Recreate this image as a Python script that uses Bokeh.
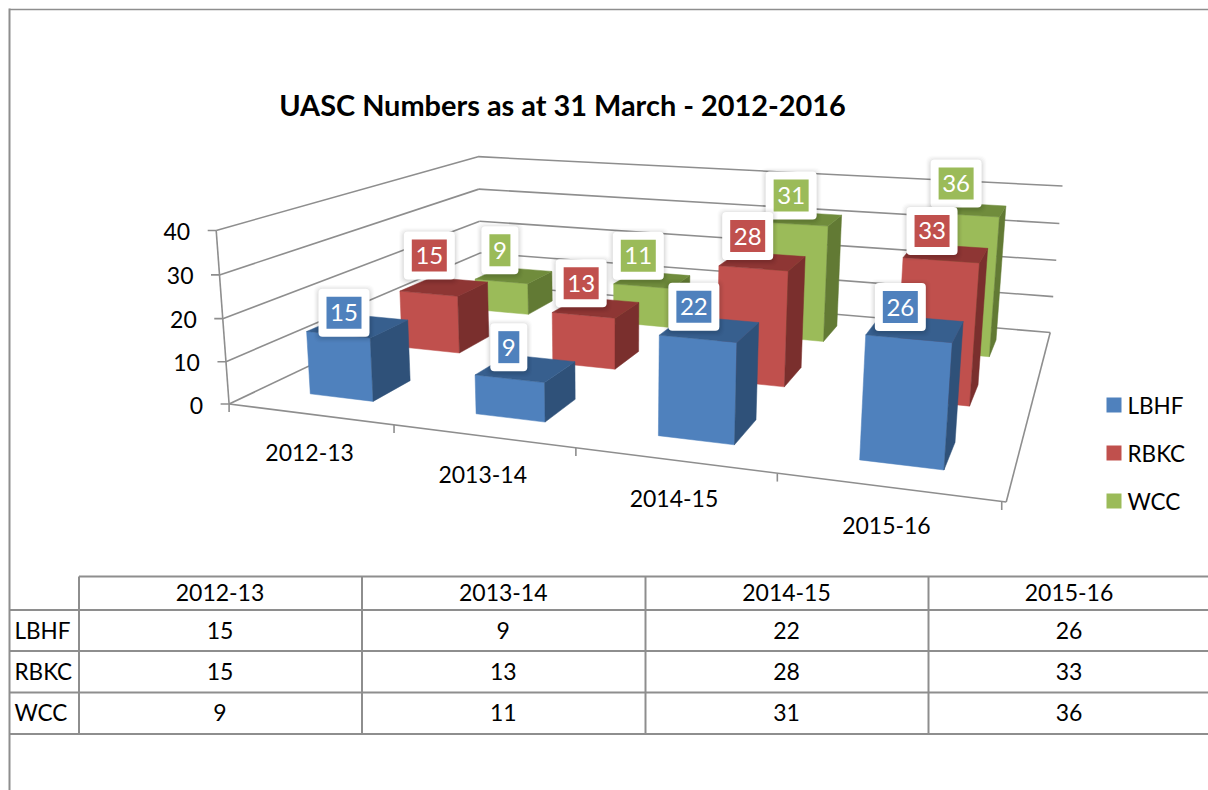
import numpy as np
from bokeh.plotting import figure
from bokeh.models import Range1d
from bokeh.core.properties import value
from bokeh.embed import file_html
from bokeh.resources import INLINE

# ---- data ----
TITLE = "UASC Numbers as at 31 March - 2012-2016"
categories = ["2012-13", "2013-14", "2014-15", "2015-16"]
LBHF = [15, 9, 22, 26]
RBKC = [15, 13, 28, 33]
WCC = [9, 11, 31, 36]
series_names = ["LBHF", "RBKC", "WCC"]
y_ticks = [0, 10, 20, 30, 40]

# ---- style ----
FONT = value("Lato")
GRID = "#8e8e8e"
front = ["#4f81bd", "#c0504d", "#9bbb59"]
top_c = ["#375f8e", "#8e3634", "#708c3c"]
side = ["#2f5179", "#7a2f2d", "#627a34"]
series = [LBHF, RBKC, WCC]
BAR_W, BAR_D = 0.39, 0.40
YMAX = 40.0
AXIS_SKEW = -4.5

p = figure(width=1208, height=790, x_range=Range1d(0, 1208), y_range=Range1d(790, 0),
           x_axis_type=None, y_axis_type=None, toolbar_location=None,
           output_backend="svg", min_border=0, outline_line_color=None,
           background_fill_color="white", border_fill_color="white")
p.grid.visible = False

# ---- perspective camera calibrated on the chart box's corners (u, v, w) -> screen
calib = [((0, 0, 0), (229.3, 403.3)), ((1, 0, 0), (1005.7, 501.7)),
         ((0, 1, 0), (480, 284)), ((1, 1, 0), (1050, 331.7)),
         ((0, 0, 1), (215, 230)), ((0, 1, 1), (478.3, 156)), ((1, 1, 1), (1061.7, 185.7))]
A = []
for (u, v, w), (x, y) in calib:
    x, y = x / 500.0, y / 500.0
    A.append([u, v, w, 1, 0, 0, 0, 0, -x*u, -x*v, -x*w, -x])
    A.append([0, 0, 0, 0, u, v, w, 1, -y*u, -y*v, -y*w, -y])
P = np.linalg.svd(np.array(A))[2][-1].reshape(3, 4)

def proj(u, v, val):
    h = P @ np.array([u, v, val / YMAX, 1.0])
    return h[0] / h[2] * 500.0, h[1] / h[2] * 500.0

def seg(a, b, width=1.6, color=GRID):
    p.line([a[0], b[0]], [a[1], b[1]], line_color=color, line_width=width)

# frame and table
seg((9, 8), (9, 790), 2)
seg((9, 9), (1208, 9), 1.5)
cols = [78.5, 361.5, 645, 928]
rows = [609.5, 650.5, 692, 733.5]
seg((78.5, 576), (1208, 576), 2)
for r in rows:
    seg((9, r), (1208, r), 2)
for c in cols:
    seg((c, 576), (c, 733.5), 2)
TBL = 23
ROW_Y = [629.5, 670.5, 712]
for i, cat in enumerate(categories):
    cx = (cols[i] + (cols[i+1] if i < 3 else 1210)) / 2 - 0.5
    p.text([cx], [591.5], text=[cat], text_font=FONT, text_font_size=f"{TBL}px", text_align="center", text_baseline="middle", text_color="#000000")
    for j, s in enumerate(series):
        p.text([cx], [ROW_Y[j]], text=[str(s[i])], text_font=FONT, text_font_size=f"{TBL}px", text_align="center", text_baseline="middle", text_color="#000000")
for j, n in enumerate(series_names):
    p.text([14], [ROW_Y[j]], text=[n], text_font=FONT, text_font_size="22.5px", text_align="left", text_baseline="middle", text_color="#000000")

# title
p.text([562], [104], text=[TITLE], text_font=FONT, text_font_style="bold", text_font_size="28.9px", text_align="center", text_baseline="middle", text_color="#000000")

# walls
for t in y_ticks:
    a, b, c = proj(0, 0, t), proj(0, 1, t), proj(1, 1, t)
    seg(a, b); seg(b, c)
    seg((a[0] - 8.5, a[1]), a)
    p.text([a[0] - 26], [a[1] + 1], text=[str(t)], text_font=FONT, text_font_size="23px", text_align="right", text_baseline="middle", text_color="#000000")
seg(proj(0, 0, 0), proj(0, 0, YMAX))
seg(proj(0, 0, 0), proj(1, 0, 0))
seg(proj(1, 0, 0), proj(1, 1, 0))
for k in range(5):
    a = proj(k / 4, 0, 0)
    x = a[0] + AXIS_SKEW * k / 4
    seg((x, a[1]), (x, a[1] + 8))
for i, cat in enumerate(categories):
    a = proj((i + .5) / 4, 0, 0)
    p.text([a[0] + AXIS_SKEW * (i + .5) / 4], [a[1] + 38], text=[cat], text_font=FONT, text_font_size="23px", text_align="center", text_baseline="middle", text_color="#000000")

# bars, back series first
def face(pts, color):
    p.patch([q[0] for q in pts], [q[1] for q in pts], fill_color=color, line_color=color, line_width=0.5)

for s in (2, 1, 0):
    v0 = (s + .5 - BAR_D / 2) / 3
    v1 = (s + .5 + BAR_D / 2) / 3
    for c in range(4):
        u0 = (c + .5 - BAR_W / 2) / 4
        u1 = (c + .5 + BAR_W / 2) / 4
        h = series[s][c]
        face([proj(u0, v0, 0), proj(u1, v0, 0), proj(u1, v0, h), proj(u0, v0, h)], front[s])
        face([proj(u1, v0, 0), proj(u1, v1, 0), proj(u1, v1, h), proj(u1, v0, h)], side[s])
        face([proj(u0, v0, h), proj(u1, v0, h), proj(u1, v1, h), proj(u0, v1, h)], top_c[s])

# data labels, drawn above every bar
nudge = {0: [(-14, -13), (-17, -21), (-16, -22), (-15, -21)],
         1: [(-15, -31), (-15, -24), (-15, -25), (-14, -22)],
         2: [(-14, -25), (-14, -24), (-13, -23), (-13, -26)]}
for s in (2, 1, 0):
    for c in range(4):
        h = series[s][c]
        tx, ty = proj((c + .5) / 4, (s + .5) / 3, h)
        tx += nudge[s][c][0]; ty += nudge[s][c][1]
        txt = str(h)
        hw = 25.5 if len(txt) == 2 else 18.5
        iw = 17.5 if len(txt) == 2 else 10.5
        for grow, alpha in ((5, .012), (4, .018), (3, .025), (2, .03), (1, .035)):
            p.quad(left=[tx - hw - grow], right=[tx + hw + grow], top=[ty - 24 - grow + 1], bottom=[ty + 24 + grow + 1],
                   fill_color="#000000", fill_alpha=alpha, line_color=None, border_radius=6)
        p.quad(left=[tx - hw], right=[tx + hw], top=[ty - 24], bottom=[ty + 24], fill_color="white", line_color=None, border_radius=4)
        p.quad(left=[tx - iw], right=[tx + iw], top=[ty - 16], bottom=[ty + 16], fill_color=front[s], line_color=None)
        p.text([tx], [ty], text=[txt], text_font=FONT, text_font_size="24px", text_color="white", text_align="center", text_baseline="middle")

# legend
for j, n in enumerate(series_names):
    y = 404.5 + 48 * j
    p.quad(left=[1106], right=[1121], top=[y - 7.5], bottom=[y + 7.5], fill_color=front[j], line_color=None)
    p.text([1127], [y], text=[n], text_font=FONT, text_font_size="22.5px", text_align="left", text_baseline="middle", text_color="#000000")

open("out.html", "w").write(file_html(p, INLINE))
